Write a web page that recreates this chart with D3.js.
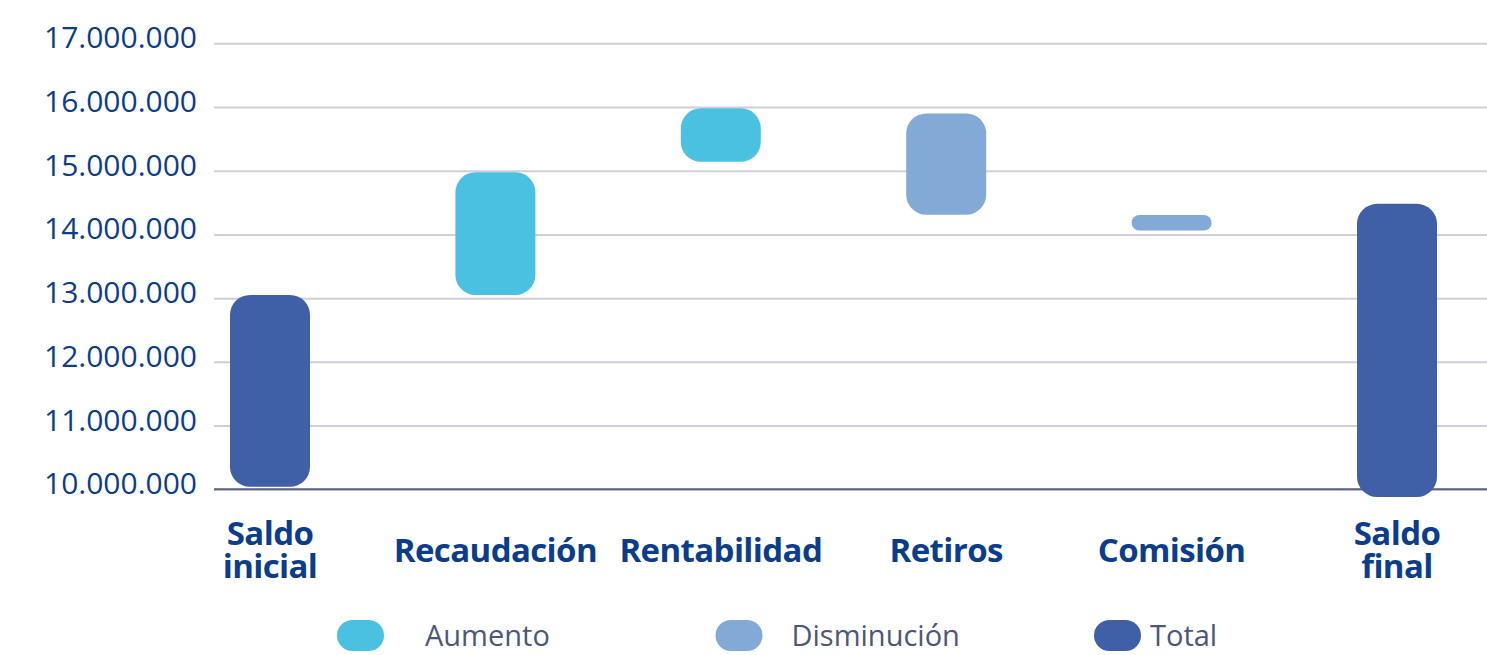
<!DOCTYPE html>
<html>
<head>
<meta charset="utf-8">
<script src="https://cdn.jsdelivr.net/npm/d3@7"></script>
<style>
  body { margin:0; background:#fff; }
  svg { display:block; font-family:"Open Sans", sans-serif; }
</style>
</head>
<body>
<div id="chart"></div>
<script>
// waterfall: saldo inicial -> saldo final (valores en pesos)
var categories=["Saldo inicial","Recaudación","Rentabilidad","Retiros","Comisión","Saldo final"];
var barStart=[10040000,13050000,15140000,14310000,14060000,9880000];
var barEnd  =[13050000,14975000,15980000,15900000,14305000,14480000];
var barType =["Total","Aumento","Aumento","Disminución","Disminución","Total"];
var legendLabels=["Aumento","Disminución","Total"];
var yTicks=[10000000,11000000,12000000,13000000,14000000,15000000,16000000,17000000];

var width=1487, height=655;
// note: "top" is reserved on window, use plot* names
var plotLeft=214, plotRight=1487, plotTop=43.3, plotBottom=489.3;

var color={"Aumento":"#4bc1e1","Disminución":"#83aad7","Total":"#3f5fa7"};

var es=d3.formatLocale({decimal:",",thousands:".",grouping:[3],currency:["$",""]});
var fmt=es.format(",d");

var x=d3.scalePoint().domain(categories).range([270,1397]);
var y=d3.scaleLinear().domain([10000000,17000000]).range([plotBottom,plotTop]);

var svg=d3.select("#chart").append("svg")
    .attr("width",width).attr("height",height);

// grid + labels
var yAxis=svg.append("g")
    .attr("transform","translate("+plotLeft+",0)")
    .call(d3.axisLeft(y).tickValues(yTicks).tickFormat(fmt)
          .tickSize(-(plotRight-plotLeft)).tickPadding(17));
yAxis.select(".domain").remove();
yAxis.selectAll(".tick line")
    .attr("stroke","#cfcfdc").attr("stroke-width",2);
yAxis.selectAll(".tick text")
    .attr("fill","#0b3d8c")
    .attr("font-size",30)
    .attr("font-family","'Open Sans', sans-serif")
    .attr("dy","0.15em");

// base line
svg.append("line")
    .attr("x1",plotLeft).attr("x2",plotRight)
    .attr("y1",y(10000000)).attr("y2",y(10000000))
    .attr("stroke","#5b6180").attr("stroke-width",2);

// bars
var bw=80;
for (var i=0;i<categories.length;i++){
    var y0=y(Math.max(barStart[i],barEnd[i]));
    var y1=y(Math.min(barStart[i],barEnd[i]));
    var h=y1-y0;
    var r=Math.min(20,h/2);
    svg.append("rect")
        .attr("x",x(categories[i])-bw/2)
        .attr("y",y0)
        .attr("width",bw)
        .attr("height",h)
        .attr("rx",r).attr("ry",r)
        .attr("fill",color[barType[i]]);
}

// category labels
categories.forEach(function(c){
    var words=c.split(" ");
    var t=svg.append("text")
        .attr("text-anchor","middle")
        .attr("font-size",33)
        .attr("font-weight","bold")
        .attr("letter-spacing","-0.6px")
        .attr("fill","#0b3d8c");
    if (words.length==1){
        t.append("tspan").attr("x",x(c)).attr("y",562).text(c);
    } else {
        t.append("tspan").attr("x",x(c)).attr("y",545).text(words[0]);
        t.append("tspan").attr("x",x(c)).attr("y",578).text(words.slice(1).join(" "));
    }
});

// legend
var lx=d3.scalePoint().domain(legendLabels).range([337,1094]);
var legendTextOffset=[88,76,56];
legendLabels.forEach(function(l,i){
    svg.append("rect")
        .attr("x",lx(l)).attr("y",620)
        .attr("width",47).attr("height",31)
        .attr("rx",15.5).attr("ry",15.5)
        .attr("fill",color[l]);
    svg.append("text")
        .attr("x",lx(l)+legendTextOffset[i])
        .attr("y",646)
        .attr("font-size",29)
        .attr("fill","#4d5778")
        .text(l);
});
</script>
</body>
</html>
